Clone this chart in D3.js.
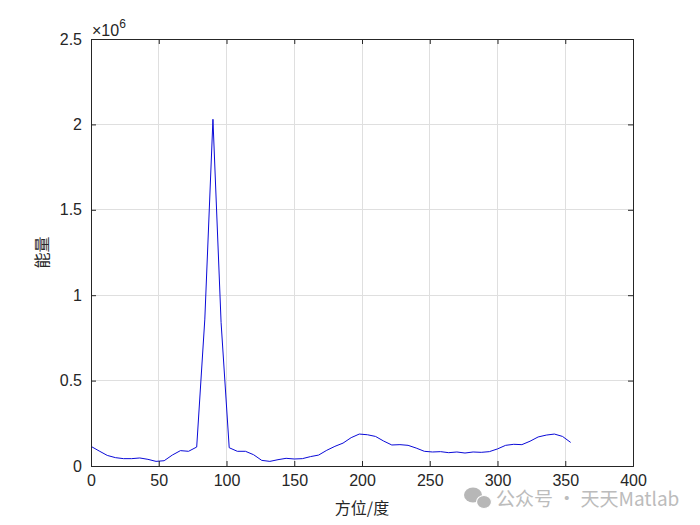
<!DOCTYPE html>
<html>
<head>
<meta charset="utf-8">
<script src="https://cdn.jsdelivr.net/npm/d3@7"></script>
<style>
  html, body { margin: 0; padding: 0; background: #fff; }
  svg { display: block; }
  text { font-family: "Liberation Sans", Arial, sans-serif; }
</style>
</head>
<body>
<svg id="chart" width="700" height="525"></svg>
<script>
// Azimuth angles (degrees), 0:6:354
const azimuths = [
  0, 6, 12, 18, 24, 30, 36, 42, 48, 54,
  60, 66, 72, 78, 84, 90, 96, 102, 108, 114,
  120, 126, 132, 138, 144, 150, 156, 162, 168, 174,
  180, 186, 192, 198, 204, 210, 216, 222, 228, 234,
  240, 246, 252, 258, 264, 270, 276, 282, 288, 294,
  300, 306, 312, 318, 324, 330, 336, 342, 348, 354
];
// Energy values (x 1e6)
const energy = [
  0.115, 0.088, 0.062, 0.049, 0.043, 0.043, 0.047, 0.039, 0.027, 0.031,
  0.064, 0.090, 0.086, 0.111, 0.860, 2.030, 0.840, 0.107, 0.086, 0.086,
  0.066, 0.033, 0.027, 0.037, 0.045, 0.041, 0.043, 0.055, 0.064, 0.092,
  0.115, 0.134, 0.166, 0.187, 0.183, 0.173, 0.146, 0.123, 0.125, 0.121,
  0.105, 0.086, 0.082, 0.084, 0.078, 0.082, 0.076, 0.082, 0.080, 0.084,
  0.100, 0.121, 0.127, 0.125, 0.145, 0.170, 0.181, 0.187, 0.173, 0.138
];
const xTicks = [0, 50, 100, 150, 200, 250, 300, 350, 400];
const yTicks = [0, 0.5, 1, 1.5, 2, 2.5];
const yTickLabels = ["0", "0.5", "1", "1.5", "2", "2.5"];
const xLabel = "方位/度";
const yLabel = "能量";
const watermark = "公众号 · 天天Matlab";

const svg = d3.select("#chart");
const L = 91, R = 633, T = 39, B = 466;
const x = d3.scaleLinear().domain([0, 400]).range([L, R]);
const y = d3.scaleLinear().domain([0, 2.5]).range([B, T]);

// grid
svg.append("g").selectAll("line").data(xTicks.slice(1, -1)).join("line")
  .attr("x1", d => x(d)).attr("x2", d => x(d)).attr("y1", T).attr("y2", B)
  .attr("stroke", "#dfdfdf").attr("stroke-width", 1).attr("shape-rendering", "crispEdges");
svg.append("g").selectAll("line").data(yTicks.slice(1, -1)).join("line")
  .attr("y1", d => y(d)).attr("y2", d => y(d)).attr("x1", L).attr("x2", R)
  .attr("stroke", "#dfdfdf").attr("stroke-width", 1).attr("shape-rendering", "crispEdges");

// line
const line = d3.line().x((d, i) => x(azimuths[i])).y(d => y(d));
svg.append("path").datum(energy).attr("d", line)
  .attr("fill", "none").attr("stroke", "#0a0ad8").attr("stroke-width", 1);

// axes box
const xAxisB = d3.axisBottom(x).tickValues(xTicks).tickSize(-5).tickPadding(9).tickFormat(d3.format("d"));
const xAxisT = d3.axisTop(x).tickValues(xTicks).tickSize(-5).tickFormat("");
const yAxisL = d3.axisLeft(y).tickValues(yTicks).tickSize(-5).tickPadding(9).tickFormat((d, i) => yTickLabels[i]);
const yAxisR = d3.axisRight(y).tickValues(yTicks).tickSize(-5).tickFormat("");

function style(g) {
  g.selectAll("path").attr("stroke", "#262626").attr("stroke-width", 1);
  g.selectAll("line").attr("stroke", "#262626");
  g.selectAll("text").attr("fill", "#262626").attr("font-size", 16)
    .style("font-family", "'Liberation Sans', Arial, sans-serif");
}
svg.append("g").attr("transform", `translate(0,${B})`).call(xAxisB).call(style);
svg.append("g").attr("transform", `translate(0,${T})`).call(xAxisT).call(style);
svg.append("g").attr("transform", `translate(${L},0)`).call(yAxisL).call(style);
svg.append("g").attr("transform", `translate(${R},0)`).call(yAxisR).call(style);

// watermark (overlaid, semi-transparent like the reference)
const wm = svg.append("g").attr("opacity", 0.7);
wm.append("ellipse").attr("cx", 473).attr("cy", 495).attr("rx", 9).attr("ry", 7.5).attr("fill", "#9a9a9a");
wm.append("ellipse").attr("cx", 484).attr("cy", 502).attr("rx", 7.5).attr("ry", 6.5).attr("fill", "#9a9a9a").attr("stroke", "#fff").attr("stroke-width", 1.2);
wm.append("text").attr("x", 496).attr("y", 506).attr("font-size", 19)
  .attr("fill", "#a0a0a0").style("font-family", "'Noto Sans CJK SC', 'Noto Sans', sans-serif")
  .text(watermark);

// exponent label
const ex = svg.append("text").attr("x", 92).attr("y", 36).attr("fill", "#262626").attr("font-size", 16);
ex.append("tspan").text("×10");
ex.append("tspan").attr("dy", -8).attr("font-size", 12).text("6");

// axis labels
svg.append("text").attr("x", (L + R) / 2).attr("y", 514).attr("text-anchor", "middle")
  .attr("font-size", 16).attr("fill", "#262626")
  .style("font-family", "'Noto Sans CJK SC', sans-serif").text(xLabel);
svg.append("text").attr("transform", `translate(48,${(T + B) / 2}) rotate(-90)`)
  .attr("text-anchor", "middle").attr("font-size", 16).attr("fill", "#262626")
  .style("font-family", "'Noto Sans CJK SC', sans-serif").text(yLabel);
</script>
</body>
</html>
